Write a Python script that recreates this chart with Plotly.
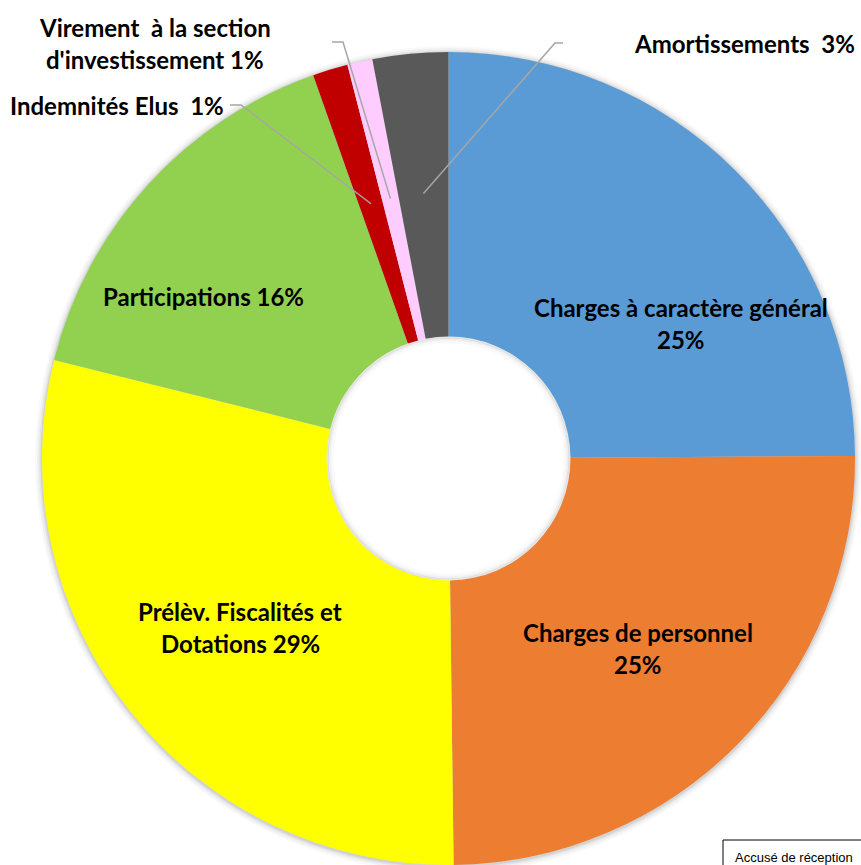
import math
import plotly.graph_objects as go

# ---------------- data ----------------
categories = [
    "Charges à caractère général",
    "Charges de personnel",
    "Prélèv. Fiscalités et Dotations",
    "Participations",
    "Indemnités Elus",
    "Virement  à la section d'investissement",
    "Amortissements",
]
values = [24.9, 24.9, 29.1, 15.7, 1.4, 1.0, 3.0]
colors = ["#5B9BD5", "#ED7D31", "#FFFF00", "#92D050", "#C00000", "#FFCCFF", "#595959"]

# how each label is broken into lines ({p} = percentage)
label_lines = [
    ["Charges à caractère général", "{p}"],
    ["Charges de personnel", "{p}"],
    ["Prélèv. Fiscalités et", "Dotations {p}"],
    ["Participations {p}"],
    ["Indemnités Elus\u00a0 {p}"],
    ["Virement\u00a0 à la section", "d'investissement {p}"],
    ["Amortissements\u00a0 {p}"],
]

# ---------------- layout / style ----------------
W, H = 861, 865
CX, CY, R = 448.5, 458.5, 406.5
HOLE = 0.30
FONT = "Lato, 'Open Sans', sans-serif"
FSIZE = 24
LINE_GAP = 32

# label anchor (pixel centre of first line, x anchor)
label_pos = [
    (681, 307, "center"),
    (638, 632, "center"),
    (240, 611, "center"),
    (203, 296, "center"),
    (226, 105, "right"),
    (155, 27, "center"),
    (857, 44, "right"),
]
# leader lines: (start, elbow) pixel points for the small slices
leaders = {
    4: [(230, 105), (241, 105)],
    5: [(332, 42), (343, 42)],
    6: [(563, 43), (555, 43)],
}
LEADER_R = 0.655


def px(x):
    return x / W


def py(y):
    return 1 - y / H


total = sum(values)
pct = [f"{round(100 * v / total)}%" for v in values]

fig = go.Figure(
    go.Pie(
        labels=categories,
        values=values,
        marker=dict(colors=colors, line=dict(width=0)),
        hole=HOLE,
        sort=False,
        direction="clockwise",
        rotation=0,
        textinfo="none",
        hoverinfo="label+percent",
        showlegend=False,
        domain=dict(x=[px(CX - R), px(CX + R)], y=[py(CY + R), py(CY - R)]),
    )
)

shapes = []
# soft outer shadow
for k, a in [(7, 0.025), (5, 0.035), (3, 0.05), (1.5, 0.07)]:
    r = R + k
    shapes.append(dict(type="circle", xref="paper", yref="paper", layer="below",
                       x0=px(CX - r), x1=px(CX + r), y0=py(CY + r + 1), y1=py(CY - r + 1),
                       fillcolor=f"rgba(0,0,0,{a})", line=dict(width=0)))
# keep the hole white
hr = R * HOLE
shapes.append(dict(type="circle", xref="paper", yref="paper", layer="below",
                   x0=px(CX - hr - 1), x1=px(CX + hr + 1), y0=py(CY + hr + 1), y1=py(CY - hr - 1),
                   fillcolor="white", line=dict(width=0)))
# soft inner shadow in hole
for k, a in [(1, 0.10), (2.5, 0.06), (4, 0.035), (6, 0.02)]:
    r = hr - k
    shapes.append(dict(type="circle", xref="paper", yref="paper", layer="above",
                       x0=px(CX - r), x1=px(CX + r), y0=py(CY + r), y1=py(CY - r),
                       fillcolor="rgba(0,0,0,0)", line=dict(width=2, color=f"rgba(0,0,0,{a})")))

# leader lines computed from slice mid angles
cum = 0
for i, v in enumerate(values):
    mid = (cum + v / 2) / total * 2 * math.pi
    cum += v
    if i in leaders:
        rr = R * LEADER_R
        ex, ey = CX + rr * math.sin(mid), CY - rr * math.cos(mid)
        (sx, sy), (bx, by) = leaders[i]
        path = f"M {px(sx)} {py(sy)} L {px(bx)} {py(by)} L {px(ex)} {py(ey)}"
        shapes.append(dict(type="path", xref="paper", yref="paper", path=path,
                           line=dict(color="#A6A6A6", width=1.5)))

# accusé box (bottom right, cropped)
shapes.append(dict(type="rect", xref="paper", yref="paper", x0=px(723), x1=px(1000),
                   y0=py(1000), y1=py(840), line=dict(color="black", width=1),
                   fillcolor="white"))

annotations = []
for i, lines in enumerate(label_lines):
    x, y, anchor = label_pos[i]
    for j, ln in enumerate(lines):
        annotations.append(dict(
            x=px(x), y=py(y + j * LINE_GAP), xref="paper", yref="paper",
            text="<b>" + ln.format(p=pct[i]) + "</b>", showarrow=False,
            xanchor=anchor, yanchor="middle",
            font=dict(family=FONT, size=FSIZE, color="black"),
        ))
annotations.append(dict(
    x=px(733), y=py(857), xref="paper", yref="paper",
    text="Accusé de réception", showarrow=False,
    xanchor="left", yanchor="middle",
    font=dict(family="Liberation Sans, Arial, sans-serif", size=13, color="black"),
))

fig.update_layout(
    width=W, height=H, margin=dict(l=0, r=0, t=0, b=0),
    paper_bgcolor="white", plot_bgcolor="white",
    shapes=shapes, annotations=annotations,
)

fig.write_html(
    "out.html",
    config={"displayModeBar": False},
    post_script="document.body.style.margin='0';document.body.style.overflow='hidden';",
)
